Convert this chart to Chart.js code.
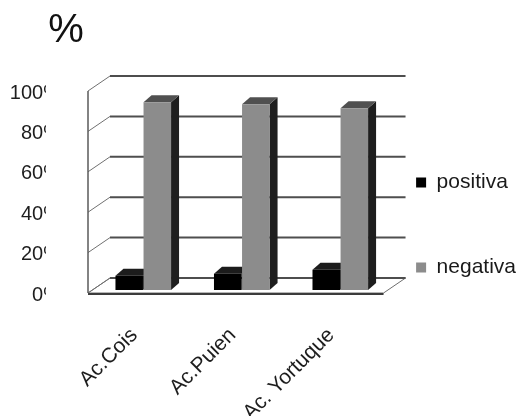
<!DOCTYPE html>
<html>
<head>
<meta charset="utf-8">
<script src="https://cdn.jsdelivr.net/npm/chart.js@4.4.1/dist/chart.umd.min.js"></script>
<style>
  html, body { margin: 0; padding: 0; background: #ffffff; }
  #wrap { width: 521px; height: 416px; }
</style>
</head>
<body>
<div id="wrap"><canvas id="chart" width="521" height="416"></canvas></div>
<script>
// Categories and series (percent of samples)
const categories = ['Ac.Cois', 'Ac.Puien', 'Ac. Yortuque'];
const seriesNames = ['positiva', 'negativa'];
const positiva = [7, 8, 10];
const negativa = [93, 92, 90];
const yTicks = [0, 20, 40, 60, 80, 100];
const unitLabel = '%';

const FONT = "'Liberation Sans', Arial, sans-serif";

// Pseudo-3D offsets (pixels) relative to the plane of the bar fronts
const depth = {
  front: { dx: -6, dy: 3 },
  back: { dx: 16, dy: -12 },
  bar: { dx: 8, dy: -7 }
};

// Face colours per series: front, top, side
const faces = [
  { front: '#000000', top: '#1c1c1c', side: '#0a0a0a' },
  { front: '#8c8c8c', top: '#505050', side: '#1e1e1e' }
];

const toPoints = arr => arr.map((v, i) => ({ x: i, y: v }));

const box3d = {
  id: 'box3d',
  beforeDraw(chart) {
    // hide the tail of the y tick labels, which run into the axis wall
    const ctx = chart.ctx;
    ctx.save();
    ctx.beginPath();
    ctx.rect(0, 0, chart.width, chart.height);
    ctx.rect(46, 70, 40, 240);
    ctx.clip('evenodd');
  },
  beforeDatasetsDraw(chart) {
    const { ctx, scales: { x, y } } = chart;
    const xl = x.getPixelForValue(-0.5);
    const xr = x.getPixelForValue(categories.length - 0.5);
    const y0 = y.getPixelForValue(0);
    const f = depth.front, b = depth.back;

    ctx.save();
    // floor
    ctx.beginPath();
    ctx.moveTo(xl + f.dx, y0 + f.dy);
    ctx.lineTo(xr + f.dx, y0 + f.dy);
    ctx.lineTo(xr + b.dx, y0 + b.dy);
    ctx.lineTo(xl + b.dx, y0 + b.dy);
    ctx.closePath();
    ctx.fillStyle = '#ffffff';
    ctx.fill();
    ctx.lineWidth = 1;
    ctx.strokeStyle = '#6e6e6e';
    ctx.stroke();
    ctx.beginPath();
    ctx.moveTo(xl + f.dx, y0 + f.dy + 1);
    ctx.lineTo(xr + f.dx, y0 + f.dy + 1);
    ctx.lineWidth = 2;
    ctx.strokeStyle = '#3c3c3c';
    ctx.stroke();

    // back wall grid lines and their connectors to the front axis
    yTicks.forEach(v => {
      const py = y.getPixelForValue(v);
      ctx.beginPath();
      ctx.moveTo(xl + b.dx, py + b.dy);
      ctx.lineTo(xr + b.dx, py + b.dy);
      ctx.lineWidth = 2;
      ctx.strokeStyle = '#4e4e4e';
      ctx.stroke();
      ctx.beginPath();
      ctx.moveTo(xl + f.dx, py + f.dy);
      ctx.lineTo(xl + b.dx, py + b.dy);
      ctx.lineWidth = 1;
      ctx.strokeStyle = '#707070';
      ctx.stroke();
    });

    // front vertical axis
    ctx.beginPath();
    ctx.moveTo(xl + f.dx, y.getPixelForValue(yTicks[yTicks.length - 1]) + f.dy);
    ctx.lineTo(xl + f.dx, y0 + f.dy);
    ctx.lineWidth = 1.5;
    ctx.strokeStyle = '#5a5a5a';
    ctx.stroke();

    // bar tops and right-hand sides
    const d = depth.bar;
    chart.data.datasets.forEach((ds, di) => {
      const meta = chart.getDatasetMeta(di);
      meta.data.forEach(bar => {
        const p = bar.getProps(['x', 'y', 'base', 'width'], true);
        const left = p.x - p.width / 2, right = p.x + p.width / 2;
        ctx.beginPath();
        ctx.moveTo(right, p.y);
        ctx.lineTo(right + d.dx, p.y + d.dy);
        ctx.lineTo(right + d.dx, p.base + d.dy);
        ctx.lineTo(right, p.base);
        ctx.closePath();
        ctx.fillStyle = faces[di].side;
        ctx.fill();
        ctx.beginPath();
        ctx.moveTo(left, p.y);
        ctx.lineTo(left + d.dx, p.y + d.dy);
        ctx.lineTo(right + d.dx, p.y + d.dy);
        ctx.lineTo(right, p.y);
        ctx.closePath();
        ctx.fillStyle = faces[di].top;
        ctx.fill();
      });
    });
    ctx.restore();
  },
  afterDraw(chart) {
    const ctx = chart.ctx;
    ctx.restore();
    // unit label above the value axis
    ctx.save();
    ctx.font = '40px ' + FONT;
    ctx.fillStyle = '#111111';
    ctx.textAlign = 'center';
    ctx.textBaseline = 'alphabetic';
    ctx.fillText(unitLabel, 66, 42);
    ctx.restore();
  }
};

new Chart(document.getElementById('chart'), {
  type: 'bar',
  data: {
    datasets: [
      { label: seriesNames[0], data: toPoints(positiva), backgroundColor: faces[0].front, borderWidth: 0, clip: false },
      { label: seriesNames[1], data: toPoints(negativa), backgroundColor: faces[1].front, borderWidth: 0, clip: false }
    ]
  },
  options: {
    responsive: false,
    animation: false,
    devicePixelRatio: 1,
    categoryPercentage: 0.57,
    barPercentage: 0.98,
    layout: { padding: { left: 0, top: 88, right: -5, bottom: 0 } },
    plugins: {
      title: { display: false },
      tooltip: { enabled: false },
      legend: {
        position: 'right',
        align: 'start',
        maxWidth: 220,
        title: { display: true, text: '', font: { size: 10, lineHeight: 0 }, padding: { top: 20, bottom: 0 } },
        labels: {
          boxWidth: 10,
          boxHeight: 10,
          padding: 64,
          color: '#1a1a1a',
          font: { family: FONT, size: 21 }
        }
      }
    },
    scales: {
      x: {
        type: 'linear',
        min: -0.5,
        max: 2.12,
        bounds: 'data',
        offset: false,
        grid: { display: false, drawTicks: false },
        border: { display: false },
        afterBuildTicks: s => { s.ticks = categories.map((_, i) => ({ value: i })); },
        ticks: {
          autoSkip: false,
          minRotation: 45,
          maxRotation: 45,
          padding: 33,
          labelOffset: -9,
          color: '#1e1e1e',
          font: { family: FONT, size: 21 },
          callback: v => categories[v] ?? ''
        },
        afterFit: s => { s.height = 126; }
      },
      y: {
        min: yTicks[0],
        max: yTicks[yTicks.length - 1],
        grid: { display: false, drawTicks: false },
        border: { display: false },
        ticks: {
          stepSize: 20,
          padding: 33,
          labelOffset: 5,
          color: '#1e1e1e',
          font: { family: FONT, size: 20 },
          callback: v => v + '%'
        },
        afterFit: s => { s.width = 94; }
      }
    }
  },
  plugins: [box3d]
});
</script>
</body>
</html>
